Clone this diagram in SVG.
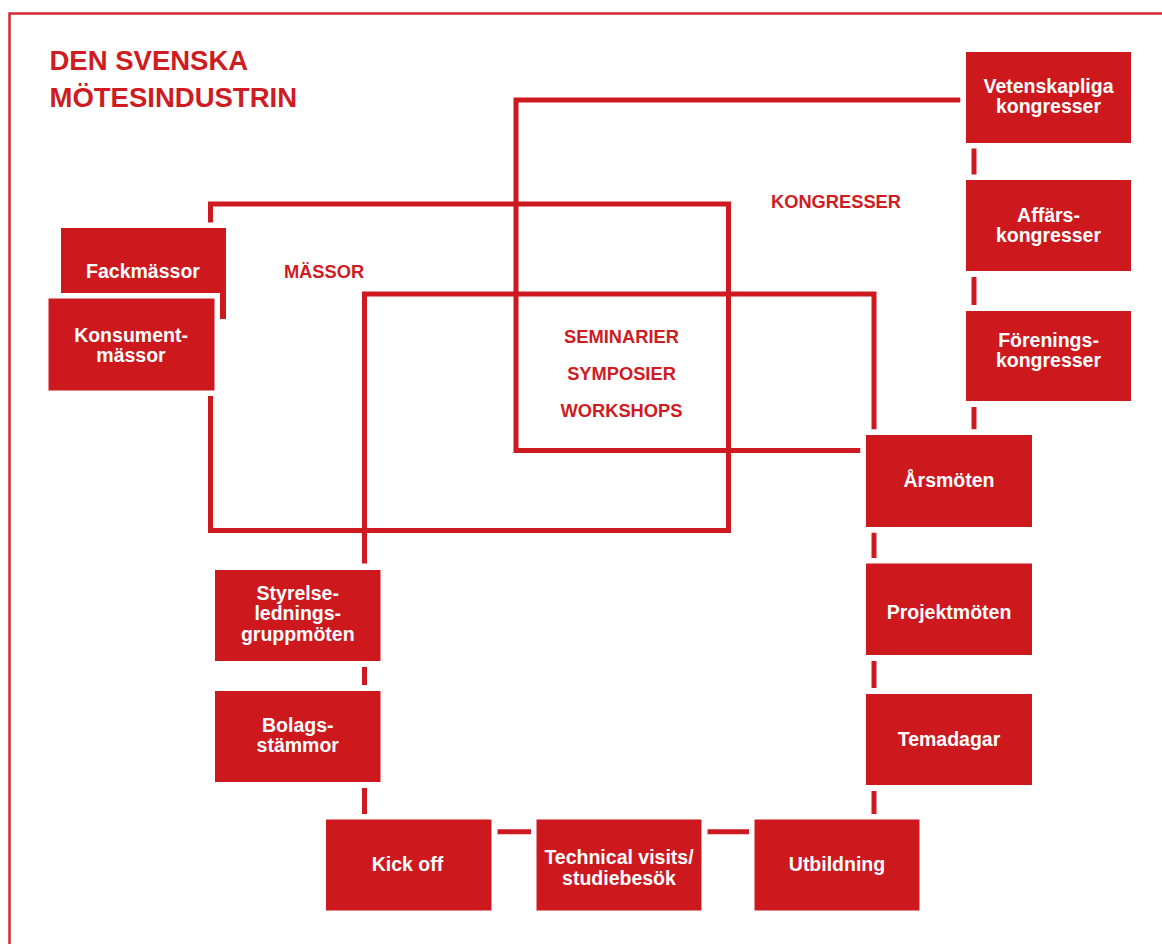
<svg xmlns="http://www.w3.org/2000/svg" width="1162" height="944" viewBox="0 0 1162 944">
<style>
.frame{fill:none;stroke:#d42a2f;stroke-width:2.5}
.ln{fill:none;stroke:#cd1a20;stroke-width:5;stroke-linejoin:miter;stroke-linecap:butt}
.box{fill:#cd181e;stroke:#ffffff;stroke-width:11;paint-order:stroke}
.lbl{fill:#ffffff;font-family:"Liberation Sans",Arial,sans-serif;font-weight:bold;font-size:19.5px;text-anchor:middle}
.title{fill:#cf1b22;font-family:"Liberation Sans",Arial,sans-serif;font-weight:bold;font-size:27.5px}
.region{fill:#cf1b22;font-family:"Liberation Sans",Arial,sans-serif;font-weight:bold;font-size:18.3px;text-anchor:middle}
</style>
<rect width="1162" height="944" fill="#ffffff"/>
<path class="frame" d="M9.5,944 V13.5 H1162"/>
<g id="title">
<text class="title" x="49.5" y="70">DEN SVENSKA</text>
<text class="title" x="49.5" y="107">MÖTESINDUSTRIN</text>
</g>
<g id="connectors">
<path class="ln" d="M960.5,100 H516 V450.5 H860.5"/>
<path class="ln" d="M210.5,223 V204 H728.5 V530.5 H210.5 V396"/>
<path class="ln" d="M364.5,563.5 V294 H874 V429.5"/>
<path class="ln" d="M974,148 V175"/>
<path class="ln" d="M974,277 V305"/>
<path class="ln" d="M974,407 V429.5"/>
<path class="ln" d="M874,532.5 V558"/>
<path class="ln" d="M874,661 V688"/>
<path class="ln" d="M874,791 V814"/>
<path class="ln" d="M364.5,667 V685"/>
<path class="ln" d="M364.5,788 V814"/>
<path class="ln" d="M497.5,831.8 H531"/>
<path class="ln" d="M707.5,831.8 H749"/>
</g>
<g id="region-labels">
<text class="region" x="836" y="207.5">KONGRESSER</text>
<text class="region" x="324" y="278">MÄSSOR</text>
<text class="region" x="621.5" y="343.3">SEMINARIER</text>
<text class="region" x="621.5" y="380">SYMPOSIER</text>
<text class="region" x="621.5" y="417.3">WORKSHOPS</text>
</g>
<g id="vetenskapliga">
<rect class="box" x="966" y="52" width="165" height="91"/>
<text class="lbl" x="1048.5" y="93">Vetenskapliga</text>
<text class="lbl" x="1048.5" y="113">kongresser</text>
</g>
<g id="affars">
<rect class="box" x="966" y="180" width="165" height="91"/>
<text class="lbl" x="1048.5" y="221.5">Affärs-</text>
<text class="lbl" x="1048.5" y="241.5">kongresser</text>
</g>
<g id="forenings">
<rect class="box" x="966" y="311" width="165" height="90"/>
<text class="lbl" x="1048.5" y="346.5">Förenings-</text>
<text class="lbl" x="1048.5" y="367">kongresser</text>
</g>
<g id="arsmoten">
<rect class="box" x="866" y="435" width="166" height="92"/>
<text class="lbl" x="949" y="487.3">Årsmöten</text>
</g>
<g id="projektmoten">
<rect class="box" x="866" y="563.5" width="166" height="91.5"/>
<text class="lbl" x="949" y="619">Projektmöten</text>
</g>
<g id="temadagar">
<rect class="box" x="866" y="694" width="166" height="91"/>
<text class="lbl" x="949" y="746">Temadagar</text>
</g>
<g id="utbildning">
<rect class="box" x="754.5" y="819.5" width="165" height="91"/>
<text class="lbl" x="837" y="871">Utbildning</text>
</g>
<g id="technical">
<rect class="box" x="536.5" y="819.5" width="165" height="91"/>
<text class="lbl" x="619" y="864">Technical visits/</text>
<text class="lbl" x="619" y="884.5">studiebesök</text>
</g>
<g id="kickoff">
<rect class="box" x="326" y="819.5" width="165.5" height="91"/>
<text class="lbl" x="407.5" y="871">Kick off</text>
</g>
<g id="bolagsstammor">
<rect class="box" x="215" y="691" width="165.5" height="91"/>
<text class="lbl" x="297.75" y="732">Bolags-</text>
<text class="lbl" x="297.75" y="752">stämmor</text>
</g>
<g id="styrelse">
<rect class="box" x="215" y="570" width="165.5" height="91"/>
<text class="lbl" x="297.75" y="599.5">Styrelse-</text>
<text class="lbl" x="297.75" y="620">lednings-</text>
<text class="lbl" x="297.75" y="640.5">gruppmöten</text>
</g>
<g id="fackmassor">
<rect class="box" x="61" y="228" width="165" height="91"/>
<text class="lbl" x="143" y="278">Fackmässor</text>
</g>
<g id="konsumentmassor">
<rect class="box" x="48.5" y="298.5" width="166" height="92"/>
<text class="lbl" x="131" y="341.5">Konsument-</text>
<text class="lbl" x="131" y="361.5">mässor</text>
</g>
</svg>
